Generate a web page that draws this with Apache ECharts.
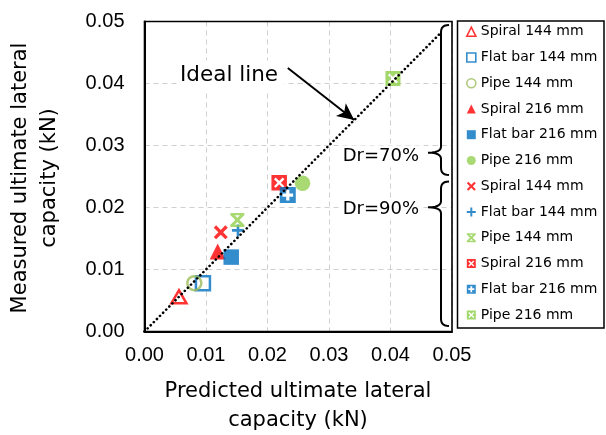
<!DOCTYPE html>
<html>
<head>
<meta charset="utf-8">
<script src="https://cdn.jsdelivr.net/npm/echarts@6/dist/echarts.min.js"></script>
<style>
html,body{margin:0;padding:0;background:#fff;}
#chart{width:606px;height:435px;}
</style>
</head>
<body>
<div id="chart"></div>
<script>
// ---- data ----
const seriesNames = [
  'Spiral 144 mm', 'Flat bar 144 mm', 'Pipe 144 mm',
  'Spiral 216 mm', 'Flat bar 216 mm', 'Pipe 216 mm',
  'Spiral 144 mm ', 'Flat bar 144 mm ', 'Pipe 144 mm ',
  'Spiral 216 mm ', 'Flat bar 216 mm ', 'Pipe 216 mm '
];
// [predicted, measured]
const spiral144Dr70 = [[0.0056, 0.0056]];
const flatbar144Dr70 = [[0.0095, 0.0078]];
const pipe144Dr70 = [[0.0081, 0.0078]];
const spiral216Dr70 = [[0.0119, 0.0129]];
const flatbar216Dr70 = [[0.0141, 0.0120]];
const pipe216Dr70 = [[0.0257, 0.0239]];
const spiral144Dr90 = [[0.0124, 0.0160]];
const flatbar144Dr90 = [[0.0152, 0.0163]];
const pipe144Dr90 = [[0.0151, 0.0180]];
const spiral216Dr90 = [[0.0219, 0.0240]];
const flatbar216Dr90 = [[0.0233, 0.0220]];
const pipe216Dr90 = [[0.0404, 0.0408]];
const idealLine = [[0, 0], [0.048, 0.048]];
const arrowFrom = [0.0233, 0.0425];
const arrowTo = [0.0341, 0.0341];
const axisTicks = [0, 0.01, 0.02, 0.03, 0.04, 0.05];

// ---- symbol shapes ----
function poly(pts, reverse) {
  const p = reverse ? pts.slice().reverse() : pts;
  return 'M' + p.map(q => q[0].toFixed(2) + ',' + q[1].toFixed(2)).join(' L') + ' Z';
}
function xPts(o, s, t) {
  const base = [[0,t],[t,0],[5,5-t],[10-t,0],[10,t],[5+t,5],[10,10-t],[10-t,10],[5,5+t],[t,10],[0,10-t],[5-t,5]];
  return base.map(q => [o + q[0]*s/10, o + q[1]*s/10]);
}
function plusPts(o, s, w) {
  const a = 5 - w/2, b = 5 + w/2;
  const base = [[a,0],[b,0],[b,a],[10,a],[10,b],[b,b],[b,10],[a,10],[a,b],[0,b],[0,a],[a,a]];
  return base.map(q => [o + q[0]*s/10, o + q[1]*s/10]);
}
const sq = poly([[0,0],[12,0],[12,12],[0,12]]);
const crossSym = 'path://' + poly(xPts(0, 10, 1.7));
const plusSym = 'path://' + poly(plusPts(0, 10, 2.2));
const starSym = 'path://' + poly(xPts(0, 10, 1.5)) + ' ' + poly([[0,0],[10,0],[10,1.6],[0,1.6]]) + ' ' + poly([[0,8.4],[10,8.4],[10,10],[0,10]]);
const sqXSym = 'path://' + sq + ' ' + poly(xPts(2, 8, 1.6), true);
const sqPlusSym = 'path://' + sq + ' ' + poly(plusPts(2, 8, 3), true);

const RED = '#FF0000', BLUE = '#0070C0', OLIVE = '#9BBB59', GREEN = '#92D050';

function sc(name, data, symbol, size, itemStyle, z) {
  return { name, type: 'scatter', data, symbol, symbolSize: size, itemStyle, z: z || 2, emphasis: { disabled: true } };
}

const series = [
  sc(seriesNames[0], spiral144Dr70, 'triangle', [15, 13], { color: '#fff', borderColor: RED, borderWidth: 2.5 }),
  sc(seriesNames[1], flatbar144Dr70, 'rect', 14, { color: '#fff', borderColor: BLUE, borderWidth: 2.5 }),
  sc(seriesNames[2], pipe144Dr70, 'circle', 14, { color: 'rgba(255,255,255,0)', borderColor: OLIVE, borderWidth: 2.5 }),
  sc(seriesNames[3], spiral216Dr70, 'triangle', [16, 16], { color: RED }),
  sc(seriesNames[4], flatbar216Dr70, 'rect', 15.5, { color: BLUE }),
  sc(seriesNames[5], pipe216Dr70, 'circle', 15.5, { color: GREEN }),
  sc(seriesNames[6], spiral144Dr90, crossSym, 14, { color: RED }),
  sc(seriesNames[7], flatbar144Dr90, plusSym, 12, { color: BLUE }),
  sc(seriesNames[8], pipe144Dr90, starSym, 14, { color: GREEN }),
  sc(seriesNames[9], spiral216Dr90, sqXSym, 15.5, { color: RED }),
  sc(seriesNames[10], flatbar216Dr90, sqPlusSym, 16, { color: BLUE }),
  sc(seriesNames[11], pipe216Dr90, sqXSym, 15, { color: GREEN, opacity: 0.85 }),
  {
    name: 'Ideal line', type: 'line', data: idealLine, symbol: 'none', z: 5, silent: true,
    lineStyle: { color: '#000', width: 2.6, type: [0.1, 4.3], cap: 'round' },
    markLine: {
      silent: true, symbol: ['none', 'arrow'], symbolSize: [12, 17],
      label: { show: false },
      lineStyle: { color: '#000', width: 2, type: 'solid' },
      data: [[{ coord: arrowFrom }, { coord: arrowTo }]]
    }
  }
];

const legendData = seriesNames.map((n, i) => (i < 3
  ? { name: n, itemStyle: { borderWidth: 1.6 } }
  : { name: n }));

const axisCommon = {
  type: 'value', min: axisTicks[0], max: axisTicks[axisTicks.length - 1], interval: 0.01,
  axisLine: { show: true, onZero: false, lineStyle: { color: '#000', width: 2 } },
  axisTick: { show: false },
  splitLine: { show: true, lineStyle: { color: '#CFCFCF', width: 1, type: [5, 4] } },
  axisLabel: { color: '#000', fontSize: 20, fontFamily: '"Liberation Sans"', formatter: v => v.toFixed(2) }
};

// brace outline as polyline points (quadratic curls)
function quad(p0, p1, p2, n) {
  const out = [];
  for (let i = 1; i <= n; i++) {
    const t = i / n, u = 1 - t;
    out.push([u*u*p0[0] + 2*u*t*p1[0] + t*t*p2[0], u*u*p0[1] + 2*u*t*p1[1] + t*t*p2[1]]);
  }
  return out;
}
function brace(x, top, mid, bot, tipX, endX) {
  let pts = [[endX, top]];
  pts = pts.concat(quad([endX, top], [x, top], [x, top + 7], 6));
  pts.push([x, mid - 6]);
  pts = pts.concat(quad([x, mid - 6], [x, mid], [tipX, mid], 6));
  pts = pts.concat(quad([tipX, mid], [x, mid], [x, mid + 6], 6));
  pts.push([x, bot - 7]);
  pts = pts.concat(quad([x, bot - 7], [x, bot], [endX, bot], 6));
  return pts;
}

const chart = echarts.init(document.getElementById('chart'), null, { renderer: 'canvas' });
chart.setOption({
  animation: false,
  backgroundColor: '#fff',
  grid: { left: 144.5, right: 154, top: 21.5, bottom: 103.5, show: false, outerBoundsMode: 'none' },
  xAxis: Object.assign({}, axisCommon, { axisLabel: Object.assign({}, axisCommon.axisLabel, { margin: 14 }) }),
  yAxis: Object.assign({}, axisCommon, { axisLabel: Object.assign({}, axisCommon.axisLabel, { margin: 20 }) }),
  legend: {
    orient: 'vertical', left: 466, top: 23.7, padding: 0,
    itemWidth: 9, itemHeight: 9, itemGap: 9.75, itemTextGap: 5,
    textStyle: { color: '#000', fontSize: 14, fontFamily: '"DejaVu Sans"', lineHeight: 16 },
    selectedMode: false,
    data: legendData
  },
  graphic: [
    { type: 'rect', shape: { x: 144.5, y: 21.5, width: 307.5, height: 310 }, style: { fill: 'none', stroke: '#000', lineWidth: 1.6 }, z: 1, silent: true },
    { type: 'rect', shape: { x: 457.5, y: 21, width: 146.5, height: 307 }, style: { fill: 'none', stroke: '#000', lineWidth: 1.5 }, z: 10 },
    { type: 'polyline', shape: { points: brace(441, 25, 152.7, 175, 428, 449) }, style: { fill: 'none', stroke: '#000', lineWidth: 2 }, z: 10 },
    { type: 'polyline', shape: { points: brace(441, 181.5, 207.3, 326, 428, 449) }, style: { fill: 'none', stroke: '#000', lineWidth: 2 }, z: 10 },
    { type: 'text', x: 421, y: 156.5, z: 10, style: { text: 'Dr=70%', font: '18px "DejaVu Sans"', fill: '#000', align: 'right', verticalAlign: 'middle', backgroundColor: '#fff', padding: [2, 2] } },
    { type: 'text', x: 421, y: 209.5, z: 10, style: { text: 'Dr=90%', font: '18px "DejaVu Sans"', fill: '#000', align: 'right', verticalAlign: 'middle', backgroundColor: '#fff', padding: [2, 2] } },
    { type: 'text', x: 180, y: 75.5, z: 10, style: { text: 'Ideal line', font: '21.5px "DejaVu Sans"', fill: '#000', align: 'left', verticalAlign: 'middle', backgroundColor: '#fff', padding: [4, 6, 4, 0] } },
    { type: 'text', x: 298, y: 406.5, z: 10, style: { text: 'Predicted ultimate lateral\ncapacity (kN)', font: '21px "DejaVu Sans"', fill: '#000', align: 'center', verticalAlign: 'middle', lineHeight: 29 } },
    { type: 'text', x: 35.5, y: 178, rotation: Math.PI / 2, z: 10, style: { text: 'Measured ultimate lateral\ncapacity (kN)', font: '21px "DejaVu Sans"', fill: '#000', align: 'center', verticalAlign: 'middle', lineHeight: 29 } }
  ],
  series
});
</script>
</body>
</html>
